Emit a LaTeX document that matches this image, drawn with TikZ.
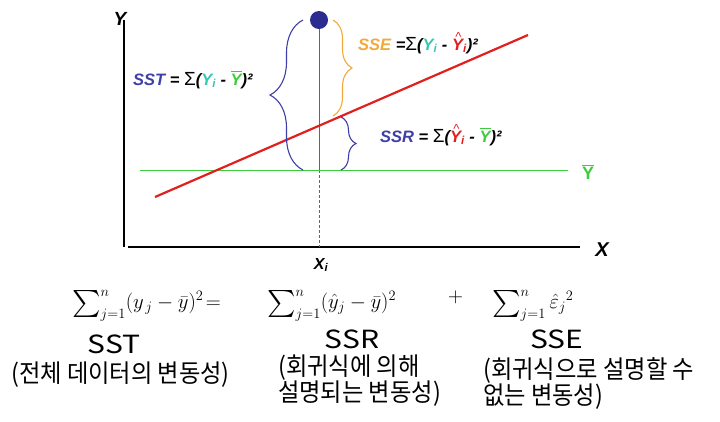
\documentclass[tikz,border=0pt]{standalone}
\usepackage{fontspec}
\setmainfont{Liberation Sans}
\newfontfamily\kr[FakeStretch=0.93]{Noto Sans CJK KR}
\newfontfamily\krw[FakeStretch=1.2]{Noto Sans CJK KR}
\usepackage{amsmath}
\usepackage{graphicx}
\usetikzlibrary{decorations.pathreplacing}
\definecolor{sstblue}{HTML}{3F3FA8}
\definecolor{dotblue}{HTML}{2B2B90}
\definecolor{sseorange}{HTML}{F2A93B}
\definecolor{tealc}{HTML}{33C7B5}
\definecolor{greenc}{HTML}{3DCC3D}
\definecolor{redc}{HTML}{E0201E}
\newcommand\capY{\ooalign{\hfil\raisebox{9pt}{\kern1.5pt\fontsize{13}{13}\selectfont\mdseries\upshape\textasciicircum}\hfil\cr Y\cr}}
\newcommand\Yi{{\color{tealc}Y\textsubscript{i}}}
\newcommand\Yhat{{\color{redc}\capY\textsubscript{i}}}
\newcommand\Ybar{{\color{greenc}$\overline{\mbox{Y}}$}}
\newcommand\Sig{{\mdseries\upshape\fontsize{19}{19}\selectfont Σ}}
\newcommand\bsum{\mathop{\raisebox{-0.12em}{\scalebox{1.3}{$\textstyle\sum$}}}\nolimits}
\tikzset{
  lbl/.style={font=\fontsize{16.5}{18}\selectfont\bfseries\itshape, inner sep=0, anchor=base west},
  axlbl/.style={font=\fontsize{19}{22}\selectfont\bfseries\itshape, inner sep=0},
  mrow/.style={font=\fontsize{22.5}{24}\selectfont, inner sep=0, anchor=base west},
  krtxt/.style={font=\kr\fontsize{25}{26}\selectfont, inner sep=0},
  sname/.style={font=\krw\fontsize{25}{27}\selectfont, inner sep=0},
  brc/.style={decorate, line width=1.1pt},
}
\begin{document}
\begin{tikzpicture}[x=1pt,y=-1pt]
\useasboundingbox (0,0) rectangle (720,421);
% axes
\coordinate (yt) at (124,20);
\coordinate (o) at (124,247);
\coordinate (xs) at (128,247);
\coordinate (xe) at (580,247);
\draw[line width=2.4pt] (yt) -- (o);
\draw[line width=2.8pt] (xs) -- (xe);
\node[axlbl] (ylab) at (120,19) {Y};
\node[axlbl, font=\fontsize{20}{22}\selectfont\bfseries\itshape] (xlab) at (602,250) {X};
% point and vertical
\node[circle, fill=dotblue, minimum size=18pt, inner sep=0] (pt) at (319,20) {};
\coordinate (xg) at (319,170);
\coordinate (xa) at (319,247);
\draw[gray!80!black, line width=0.8pt] (pt.south) -- (xg);
\draw[gray!80!black, line width=0.8pt, dash pattern=on 3pt off 2pt] (xg) -- (xa);
\node[axlbl, font=\fontsize{16}{18}\selectfont\bfseries\itshape] (xi) at (321,265) {X\textsubscript{i}};
% lines
\coordinate (g1) at (140,170.5);
\coordinate (g2) at (568,170.5);
\draw[greenc, line width=1.6pt] (g1) -- (g2);
\coordinate (r1) at (155,197);
\coordinate (r2) at (528,35);
\draw[redc, line width=2.2pt] (r1) -- (r2);
\node[axlbl, text=greenc, font=\fontsize{18}{20}\selectfont\bfseries] (ybl) at (588,172) {$\overline{\mbox{Y}}$};
% braces
\draw[brc, sstblue, decoration={brace, amplitude=33pt}] (303,170) -- (303,20);
\draw[brc, sseorange, decoration={brace, amplitude=19pt}] (333,20) -- (333,116);
\draw[brc, sstblue, decoration={brace, amplitude=15pt}] (341,117) -- (341,170);
% formula labels
\node[lbl] (sst) at (133,85) {{\color{sstblue}SST} = \Sig(\Yi{} - \Ybar)²};
\node[lbl] (sse) at (358,50) {{\color{sseorange}SSE} =\Sig(\Yi{} - \Yhat)²};
\node[lbl] (ssr) at (380,142) {{\color{sstblue}SSR} = \Sig(\Yhat{} - \Ybar)²};
% bottom math row
\node[mrow] (m1) at (72,308) {$\bsum_{j=1}^{n}(y_{\,j}-\bar{y})^2\!=$};
\node[mrow] (m2) at (267,308) {$\bsum_{j=1}^{n}(\hat{y}_j-\bar{y})^2$};
\node[mrow] (pl) at (448,302) {$+$};
\node[mrow] (m3) at (492,308) {$\bsum_{j=1}^{n}\hat{\varepsilon}_j{}^2$};
% names
\node[sname] (nsst) at (114,344) {SST};
\node[sname] (nssr) at (352,339) {SSR};
\node[sname] (nsse) at (557,339) {SSE};
\node[krtxt, anchor=west] (d1) at (11,375) {(전체 데이터의 변동성)};
\node[krtxt, anchor=north west, align=left] (d2) at (278,355) {(회귀식에 의해\\설명되는 변동성)};
\node[krtxt, anchor=north west, align=left] (d3) at (483,357) {(회귀식으로 설명할 수\\없는 변동성)};
\end{tikzpicture}
\end{document}
